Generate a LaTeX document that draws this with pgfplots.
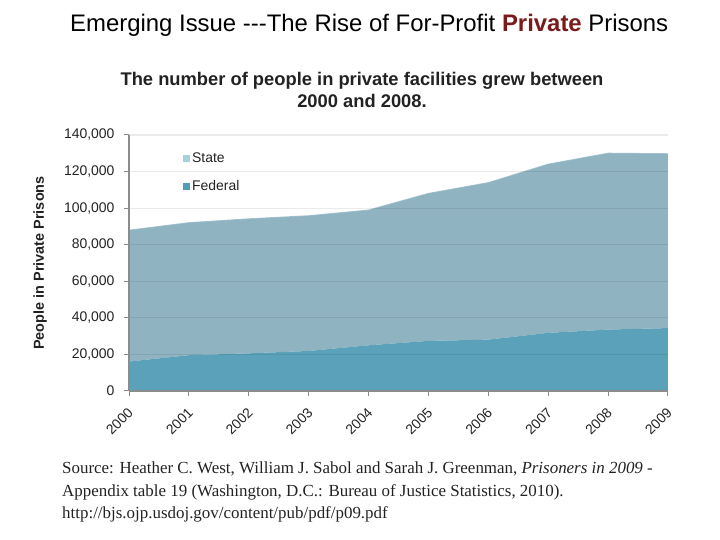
\documentclass[border=0pt]{standalone}
\usepackage{pgfplots}
\pgfplotsset{compat=1.18}
\usepackage{fontspec}
\setmainfont{Liberation Sans}
\newfontfamily\srcfont{Liberation Serif}
\definecolor{stateC}{HTML}{8FB3C0}
\definecolor{stateE}{HTML}{A2C3CE}
\definecolor{fedC}{HTML}{5AA1B9}
\definecolor{stateL}{HTML}{A8D0DC}
\definecolor{fedL}{HTML}{4F9DB8}
\definecolor{privC}{HTML}{7B1A1A}
\definecolor{axC}{HTML}{8C8C8C}
\definecolor{txtC}{HTML}{222222}
\begin{document}
\begin{tikzpicture}
\useasboundingbox (0bp,0bp) rectangle (720bp,540bp);
\node[anchor=base west, inner sep=0, font=\fontsize{24}{28}\selectfont] at (70bp,508bp)
  {Emerging Issue -{}-{}-The Rise of For-Profit \textbf{\color{privC}Private} Prisons};
\node[align=center, inner sep=0, font=\fontsize{18.4}{21.5}\selectfont\bfseries, text=txtC] at (362bp,450bp)
  {The number of people in private facilities grew between\\2000 and 2008.};
\begin{axis}[
  at={(129bp,149bp)}, anchor=south west, scale only axis,
  width=539bp, height=256bp,
  xmin=2000, xmax=2009, ymin=0, ymax=140000,
  stack plots=y,
  axis x line*=bottom, axis y line*=left,
  axis line style={axC, line width=1.2bp, -},
  tick align=outside, major tick length=5bp,
  tick style={axC, line width=1bp},
  xtick={2000,...,2009}, ytick={0,20000,...,140000},
  scaled y ticks=false,
  /pgf/number format/assume math mode=true,
  x tick label style={/pgf/number format/1000 sep={}, xshift=4bp, yshift=-12bp, rotate=45, anchor=east, font=\fontsize{14}{16}\selectfont, text=txtC},
  y tick label style={/pgf/number format/fixed, /pgf/number format/1000 sep={,}, xshift=-6bp, font=\fontsize{14}{16}\selectfont, text=txtC},
  ymajorgrids, grid style={black, opacity=0.08, line width=1.2bp},
  axis on top,
  ylabel={People in Private Prisons},
  ylabel style={at={(axis description cs:-0.165,0.5)}, anchor=center, font=\fontsize{14.5}{17}\selectfont\bfseries, text=txtC},
  legend style={at={(axis description cs:0.1,0.94)}, anchor=north west, draw=none, fill=none,
    font=\fontsize{14}{16}\selectfont, text=txtC, row sep=13bp, inner sep=0pt, cells={anchor=west}},
  reverse legend,
]
\addplot[fill=fedC, draw=none,
  legend image code/.code={\fill[fedL] (0bp,-3.5bp) rectangle (7bp,3.5bp);}]
  coordinates {(2000,16100) (2001,19600) (2002,20600) (2003,21900) (2004,25000)
               (2005,27400) (2006,28100) (2007,31800) (2008,33600) (2009,34400)} \closedcycle;
\addlegendentry{Federal}
\addplot[fill=stateC, draw=none,
  legend image code/.code={\fill[stateL] (0bp,-3.5bp) rectangle (7bp,3.5bp);}]
  coordinates {(2000,71700) (2001,72300) (2002,73400) (2003,73800) (2004,73800)
               (2005,80500) (2006,85700) (2007,92100) (2008,96300) (2009,95200)} \closedcycle;
\addlegendentry{State}
\addplot[stack plots=false, forget plot, draw=stateE, line width=1.5bp, fill=none, mark=none]
  coordinates {(2000,87800) (2001,91900) (2002,94000) (2003,95700) (2004,98800)
               (2005,107900) (2006,113800) (2007,123900) (2008,129900) (2009,129600)};
\end{axis}
\begin{scope}[every node/.style={anchor=base west, inner sep=0, font=\srcfont\fontsize{17}{19}\selectfont, text=txtC}]
\node at (62bp,66bp) {Source: Heather C. West, William J. Sabol and Sarah J. Greenman, \textit{Prisoners in 2009} -};
\node at (62bp,43bp) {Appendix table 19 (Washington, D.C.: Bureau of Justice Statistics, 2010).};
\node at (62bp,22bp) {http://bjs.ojp.usdoj.gov/content/pub/pdf/p09.pdf};
\end{scope}
\end{tikzpicture}
\end{document}
